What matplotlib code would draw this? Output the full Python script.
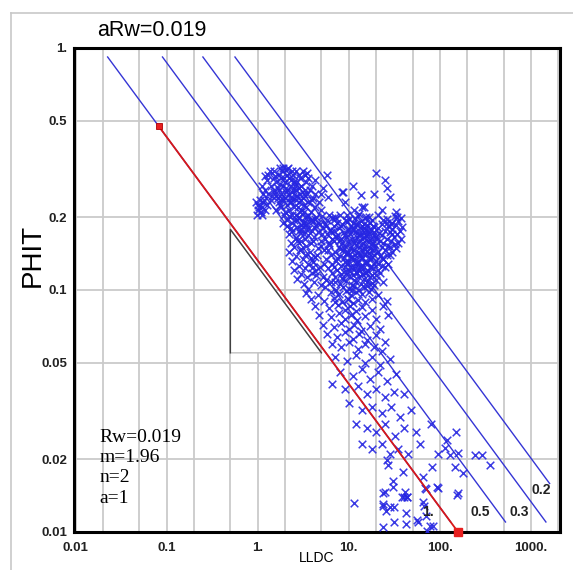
import numpy as np
import matplotlib.pyplot as plt
from matplotlib.patches import Polygon
from matplotlib.lines import Line2D

# Pickett plot parameters
a_rw = 0.019
m_exp = 1.96
n_exp = 2
sw_levels = [1.0, 0.5, 0.3, 0.2]
sw_labels = ['1.', '0.5', '0.3', '0.2']
sw_label_x = [74, 275, 740, 1290]
sw_label_y = [0.0121, 0.0121, 0.0121, 0.0149]

xticks = [0.01, 0.1, 1, 10, 100, 1000]
xtick_labels = ['0.01', '0.1', '1.', '10.', '100.', '1000.']
yticks = [0.01, 0.02, 0.05, 0.1, 0.2, 0.5, 1]
ytick_labels = ['0.01', '0.02', '0.05', '0.1', '0.2', '0.5', '1.']

# LLDC / PHIT samples
upper_pts = [
    (1.3, 0.30), (1.5, 0.31), (1.7, 0.30), (1.9, 0.32), (2.1, 0.30), (2.4, 0.31), (1.6, 0.28), (1.8, 0.29),
    (2.0, 0.28), (2.2, 0.29), (2.5, 0.28), (2.8, 0.30), (3.0, 0.27), (1.4, 0.27), (1.2, 0.26), (1.5, 0.26),
    (1.7, 0.26), (1.9, 0.27), (2.1, 0.26), (2.3, 0.27), (2.6, 0.26), (2.9, 0.25), (3.3, 0.26), (1.3, 0.25),
    (1.6, 0.245), (1.8, 0.25), (2.0, 0.24), (2.2, 0.25), (2.4, 0.24), (2.7, 0.245), (3.1, 0.24), (3.5, 0.25),
    (1.4, 0.235), (1.7, 0.23), (1.9, 0.235), (2.1, 0.225), (2.3, 0.23), (2.5, 0.22), (2.8, 0.23), (3.2, 0.225),
    (3.6, 0.23), (4.0, 0.24), (1.6, 0.215), (1.8, 0.22), (2.0, 0.21), (2.2, 0.215), (2.6, 0.205), (2.9, 0.21),
    (3.3, 0.20), (3.8, 0.21), (4.3, 0.22), (2.1, 0.195), (2.4, 0.19), (2.7, 0.195), (3.0, 0.185), (3.4, 0.19),
    (3.9, 0.195), (4.4, 0.20), (2.3, 0.18), (2.8, 0.175), (3.2, 0.17), (3.6, 0.178), (4.1, 0.182), (4.6, 0.19),
    (1.5, 0.29), (2.6, 0.31), (3.4, 0.28), (3.9, 0.27), (1.75, 0.275), (2.35, 0.255), (2.05, 0.265), (1.45, 0.245),
    (2.65, 0.235), (3.0, 0.215), (1.95, 0.205), (2.45, 0.30), (2.9, 0.29), (3.7, 0.26), (4.2, 0.25), (1.25, 0.285),
    (1.1, 0.27), (1.15, 0.25), (2.15, 0.32), (1.85, 0.31), (3.3, 0.30), (2.55, 0.27), (2.25, 0.24), (1.65, 0.24),
    (2.75, 0.22), (3.5, 0.20), (4.7, 0.23), (5.0, 0.25),
    (1.55, 0.295), (1.95, 0.29), (2.3, 0.285), (2.7, 0.28), (1.65, 0.265), (2.05, 0.255), (2.45, 0.26),
    (2.85, 0.265), (3.2, 0.25), (1.5, 0.255), (1.85, 0.24), (2.25, 0.23), (2.6, 0.245), (3.0, 0.235),
    (3.4, 0.22), (2.4, 0.205), (2.85, 0.20), (3.2, 0.21), (1.75, 0.225), (2.1, 0.315), (1.75, 0.32),
    (1.35, 0.31), (1.2, 0.295), (3.1, 0.31), (3.6, 0.29),
]
blob_pts = [
    (0.95, 0.23), (1.0, 0.225), (1.05, 0.235), (1.1, 0.22), (1.15, 0.23), (1.0, 0.215), (1.08, 0.21),
    (1.2, 0.215), (1.25, 0.225), (0.98, 0.205), (1.12, 0.205), (1.03, 0.22), (1.18, 0.235),
]
sparse_top_pts = [
    (3.5, 0.305), (4.2, 0.285), (5.2, 0.264), (5.7, 0.30), (8.4, 0.254), (11, 0.27), (13.5, 0.247), (14.6, 0.22),
    (20, 0.305), (19, 0.25), (25, 0.285), (26, 0.264), (28, 0.242), (23, 0.214), (33, 0.21), (30, 0.19),
    (34, 0.20), (8.6, 0.254), (11.5, 0.214), (14, 0.22), (15.5, 0.20), (9, 0.23), (3.9, 0.235), (5, 0.214),
    (5.9, 0.242), (7.0, 0.20),
]
core_pts = [
    (2.2, 0.202), (2.8, 0.198), (3.6, 0.205), (4.3, 0.196), (5.1, 0.203), (6.5, 0.199), (8.0, 0.205), (10, 0.197),
    (12.5, 0.203), (15, 0.199), (21, 0.205), (26, 0.196), (32, 0.202), (37, 0.198),
    (1.9, 0.19), (2.5, 0.194), (3.2, 0.189), (4.0, 0.192), (4.8, 0.188), (5.8, 0.194), (7.4, 0.19), (9.2, 0.195),
    (11, 0.189), (13.5, 0.193), (17, 0.19), (24, 0.194), (29, 0.188), (35, 0.192),
    (2.1, 0.184), (2.7, 0.182), (3.4, 0.186), (4.4, 0.183), (5.5, 0.187), (6.8, 0.183), (8.5, 0.187), (10.5, 0.184),
    (12, 0.188), (14, 0.183), (16, 0.186), (19, 0.182), (23, 0.187), (27, 0.183), (33, 0.186), (38, 0.182),
    (2.4, 0.176), (3.0, 0.179), (3.9, 0.175), (5.2, 0.18), (6.2, 0.177), (7.8, 0.181), (9.8, 0.177), (11.2, 0.18),
    (12.8, 0.176), (14.6, 0.181), (17.5, 0.177), (21, 0.18), (25, 0.176), (30, 0.179), (36, 0.175),
    (2.2, 0.17), (2.9, 0.172), (3.6, 0.168), (4.6, 0.173), (5.8, 0.17), (6.4, 0.174), (7.6, 0.169), (8.9, 0.173),
    (10.4, 0.17), (11.8, 0.174), (13.4, 0.169), (15.2, 0.173), (16.8, 0.17), (19, 0.174), (23, 0.169), (28, 0.173),
    (34, 0.17),
    (2.6, 0.164), (3.3, 0.162), (4.1, 0.166), (5.5, 0.163), (7.2, 0.167), (8.3, 0.163), (9.4, 0.166), (10.8, 0.162),
    (12.3, 0.166), (13.9, 0.163), (15.6, 0.167), (17.8, 0.162), (20, 0.165), (26, 0.163), (31, 0.166), (37, 0.162),
    (2.3, 0.157), (3.0, 0.159), (3.8, 0.156), (4.9, 0.16), (6.0, 0.157), (6.8, 0.159), (8.4, 0.156), (9.9, 0.16),
    (11.4, 0.157), (12.8, 0.159), (14.4, 0.156), (16.2, 0.16), (18.5, 0.157), (22, 0.159), (24, 0.156), (29, 0.16),
    (35, 0.157),
    (2.5, 0.15), (3.4, 0.152), (4.6, 0.149), (6.1, 0.153), (7.7, 0.15), (9.1, 0.152), (10.4, 0.149), (11.9, 0.153),
    (13.3, 0.15), (15, 0.152), (17, 0.149), (19.5, 0.153), (23, 0.15), (27, 0.152), (33, 0.149),
    (2.2, 0.144), (2.9, 0.146), (3.7, 0.143), (5.3, 0.147), (7.0, 0.144), (8.6, 0.146), (9.8, 0.143), (11.1, 0.147),
    (12.5, 0.144), (14, 0.146), (15.8, 0.143), (18, 0.147), (21, 0.144), (25, 0.146), (30, 0.143),
    (2.6, 0.138), (3.3, 0.14), (4.2, 0.137), (6.3, 0.14), (7.9, 0.138), (9.3, 0.141), (10.6, 0.137), (11.8, 0.14),
    (13.1, 0.138), (14.6, 0.141), (16.5, 0.137), (19, 0.14), (22, 0.138), (28, 0.14),
    (2.4, 0.132), (3.1, 0.134), (4.0, 0.131), (5.6, 0.134), (7.2, 0.132), (8.8, 0.135), (10.1, 0.131), (11.4, 0.134),
    (12.7, 0.132), (14.1, 0.135), (15.6, 0.131), (17.5, 0.134), (20, 0.132), (24, 0.134),
    (2.8, 0.126), (3.6, 0.128), (4.8, 0.125), (6.6, 0.128), (8.2, 0.126), (9.6, 0.129), (10.9, 0.125), (12.2, 0.128),
    (13.6, 0.126), (15.2, 0.129), (17, 0.125), (19, 0.128), (23, 0.126), (27, 0.128),
    (2.5, 0.121), (3.3, 0.123), (4.3, 0.12), (5.9, 0.123), (7.5, 0.121), (9.0, 0.124), (10.3, 0.12), (11.6, 0.123),
    (13, 0.121), (14.5, 0.124), (16.4, 0.12), (18.5, 0.123), (21, 0.121),
    (3.0, 0.116), (3.9, 0.118), (4.4, 0.115), (6.5, 0.118), (8.1, 0.116), (9.6, 0.119), (11, 0.115), (12.4, 0.118),
    (13.8, 0.116), (15.5, 0.119), (18, 0.115), (22, 0.118),
    (2.7, 0.111), (3.5, 0.113), (5.6, 0.11), (7.1, 0.113), (8.7, 0.111), (10.1, 0.114), (11.4, 0.11), (12.9, 0.113),
    (14.6, 0.111), (17, 0.113), (20, 0.11),
    (3.2, 0.106), (4.1, 0.108), (4.9, 0.105), (6.4, 0.108), (7.9, 0.106), (9.3, 0.109), (10.7, 0.105), (12.1, 0.108),
    (13.7, 0.106), (16, 0.108), (19, 0.105), (24, 0.108),
    (3.6, 0.101), (5.5, 0.103), (7.2, 0.10), (8.6, 0.103), (10, 0.101), (11.3, 0.104), (12.8, 0.10), (14.8, 0.103),
    (17.5, 0.101),
    (3.4, 0.097), (4.6, 0.095), (6.3, 0.098), (7.8, 0.096), (9.2, 0.099), (10.6, 0.095), (12, 0.098), (13.8, 0.096),
    (16.5, 0.098), (21, 0.095),
]
core_fill_pts = [
    (7.0, 0.196), (9.5, 0.191), (11.8, 0.198), (14.5, 0.188), (17.8, 0.195), (8.2, 0.184), (10.1, 0.179),
    (12.4, 0.185), (15.3, 0.178), (18.3, 0.184), (6.9, 0.176), (9.1, 0.168), (11.0, 0.177), (13.0, 0.171),
    (14.8, 0.165), (16.4, 0.175), (18.8, 0.168), (21.5, 0.172), (7.9, 0.161), (10.0, 0.155), (11.7, 0.161),
    (13.6, 0.154), (15.4, 0.161), (17.3, 0.155), (19.8, 0.162), (8.0, 0.148), (9.5, 0.142), (11.5, 0.147),
    (13.1, 0.141), (14.9, 0.148), (16.8, 0.142), (18.9, 0.147), (7.5, 0.136), (9.0, 0.131), (10.7, 0.137),
    (12.3, 0.13), (13.9, 0.136), (15.9, 0.13), (18.0, 0.137), (6.9, 0.125), (8.8, 0.119), (10.4, 0.124),
    (12.0, 0.119), (13.4, 0.125), (15.0, 0.118), (17.4, 0.124), (5.3, 0.128), (4.5, 0.14), (5.0, 0.152),
    (5.9, 0.146), (4.0, 0.159), (6.6, 0.163), (5.1, 0.171), (3.4, 0.178), (5.6, 0.184), (3.8, 0.195),
    (26, 0.19), (30, 0.17), (32, 0.155), (28, 0.15), (26, 0.14), (23, 0.135), (21, 0.128), (25, 0.124),
    (20, 0.115), (18, 0.107), (16, 0.104), (7.0, 0.108), (5.2, 0.113), (4.0, 0.125), (3.8, 0.135),
    (3.0, 0.148), (2.7, 0.16), (3.1, 0.19), (6.0, 0.205), (9.5, 0.205), (13, 0.207), (16.5, 0.20),
    (8.5, 0.112), (10.8, 0.10), (9.7, 0.092), (7.0, 0.089),
]
lower_pts = [
    (3.8, 0.092), (5.3, 0.09), (6.9, 0.093), (8.4, 0.089), (9.8, 0.092), (11.2, 0.088), (12.7, 0.091), (15, 0.089),
    (18, 0.092), (26, 0.09), (4.3, 0.086), (6, 0.084), (7.6, 0.087), (9, 0.083), (10.4, 0.086), (12, 0.082),
    (14, 0.085), (18, 0.083), (24, 0.086), (4.7, 0.079), (6.3, 0.077), (7.7, 0.08), (9.1, 0.076), (10.6, 0.079),
    (12.4, 0.075), (15, 0.078), (20, 0.076), (27, 0.079), (5.2, 0.072), (6.8, 0.07), (8.3, 0.073), (10, 0.069),
    (11.5, 0.072), (13.5, 0.068), (17, 0.071), (22, 0.069), (5.8, 0.066), (7.4, 0.064), (9, 0.067), (11, 0.063),
    (13, 0.066), (16, 0.062), (20, 0.065), (25, 0.061), (6.5, 0.06), (8.2, 0.058), (10, 0.061), (12.5, 0.057),
    (15, 0.06), (19, 0.058), (23, 0.056),
]
tail_pts = [
    (7, 0.053), (9.5, 0.051), (12, 0.054), (15, 0.05), (18, 0.053), (22, 0.049), (28, 0.052),
    (8, 0.046), (11, 0.044), (14, 0.047), (17, 0.043), (21, 0.046), (26, 0.042), (33, 0.045),
    (6.5, 0.041), (9, 0.039), (12.5, 0.04), (16, 0.037), (20, 0.039), (25, 0.036), (31, 0.038), (40, 0.037),
    (10, 0.034), (14, 0.032), (18, 0.033), (23, 0.031), (29, 0.033), (36, 0.03), (48, 0.032),
    (12, 0.028), (16, 0.027), (20, 0.026), (25, 0.028), (32, 0.025), (40, 0.027), (55, 0.026), (80, 0.028),
    (120, 0.024), (150, 0.026), (14, 0.023), (18, 0.022), (23, 0.023), (28, 0.021), (35, 0.022), (45, 0.021),
    (60, 0.023), (95, 0.021),
]
bottom_pts = [
    (11.4, 0.0132), (24, 0.0145), (24, 0.0128), (25.5, 0.0122), (24, 0.0105), (30.5, 0.0153), (38, 0.0139),
    (40, 0.014), (44, 0.014), (31.5, 0.0127), (42, 0.012), (42, 0.0108), (31.5, 0.011), (57, 0.011), (70, 0.015),
    (66, 0.0128), (73, 0.0101), (83, 0.0106), (92, 0.0153), (154, 0.0142), (70, 0.0116),
    (26, 0.0199), (27, 0.019), (30.5, 0.0163), (25, 0.0147), (23.5, 0.013), (28.5, 0.0127), (39, 0.0177),
    (41, 0.0146), (43, 0.0139), (65, 0.0169), (68, 0.0152), (65, 0.0133), (82, 0.0186), (95, 0.0152),
    (114, 0.0222), (130, 0.0208), (145, 0.0186), (157, 0.0212), (178, 0.0175), (157, 0.0145), (241, 0.0208),
    (288, 0.0208), (355, 0.019), (77, 0.0106), (56, 0.0112),
]

all_pts = np.array(upper_pts + blob_pts + sparse_top_pts + core_pts + core_fill_pts
                   + lower_pts + tail_pts + bottom_pts)
lldc = all_pts[:, 0]
phit = all_pts[:, 1]

fig = plt.figure(figsize=(5.73, 5.70), dpi=100)
ax = fig.add_axes([74 / 573, 38 / 570, 486 / 573, 484 / 570])

# thin frame around the whole picture
fig.add_artist(Line2D([11 / 573, 11 / 573], [0, 1 - 13 / 570], color='#c8c8c8', lw=1.2))
fig.add_artist(Line2D([11 / 573, 1], [1 - 13 / 570, 1 - 13 / 570], color='#c8c8c8', lw=1.2))

ax.set_xscale('log')
ax.set_yscale('log')
ax.set_xlim(0.0096, 2080)
ax.set_ylim(0.01, 1.0)

xgrid = [k * 10.0 ** e for e in range(-2, 4) for k in (1, 2, 5)]
ygrid = [0.02, 0.05, 0.1, 0.2, 0.5]
for g in xgrid:
    ax.axvline(g, color='#cacaca', lw=1.3, zorder=0)
for g in ygrid:
    ax.axhline(g, color='#cacaca', lw=1.3, zorder=0)

ax.set_xticks(xticks)
ax.set_xticklabels(xtick_labels)
ax.set_yticks(yticks)
ax.set_yticklabels(ytick_labels)
ax.minorticks_off()
ax.tick_params(axis='both', length=0, labelsize=9.5)
ax.tick_params(axis='x', pad=7)
ax.tick_params(axis='y', pad=5)
for lab in ax.get_xticklabels() + ax.get_yticklabels():
    lab.set_fontfamily('Liberation Sans')
    lab.set_fontweight('bold')
    lab.set_color('#222222')
for sp in ax.spines.values():
    sp.set_linewidth(2.2)
    sp.set_color('black')

# slope triangle
tri_x0, tri_x1, tri_y0 = 0.5, 5.0, 0.055
tri_y1 = tri_y0 * (tri_x1 / tri_x0) ** (1 / m_exp)
ax.add_patch(Polygon([(tri_x0, tri_y0), (tri_x0, tri_y1), (tri_x1, tri_y0)], closed=True,
                     facecolor='white', edgecolor='#c0c0c0', lw=1.0, zorder=1))
ax.plot([tri_x0, tri_x0, tri_x1], [tri_y0, tri_y1, tri_y0], color='#404040', lw=1.0, zorder=2)

# water saturation lines
phi_top, phi_bot, rt_max = 0.918, 0.011, 1600
for sw in sw_levels:
    phi_end = max(phi_bot, (a_rw / (rt_max * sw ** n_exp)) ** (1 / m_exp))
    phi = np.array([phi_top, phi_end])
    rt = a_rw / (phi ** m_exp * sw ** n_exp)
    ax.plot(rt, phi, color='#3535d5', lw=1.0, zorder=2)

for lab, lx, ly in zip(sw_labels, sw_label_x, sw_label_y):
    ax.text(lx, ly, lab, fontsize=10, fontweight='bold', family='Liberation Sans',
            ha='center', va='center', color='#222222', zorder=4)

ax.scatter(lldc, phit, marker='x', s=30, lw=1.1, color='#2626e2', alpha=0.9, zorder=3)

# Sw = 1 fit line (red) with end handles
phi_red = np.array([0.475, 0.01])
rt_red = a_rw / phi_red ** m_exp
ax.plot(rt_red, phi_red, color='#d81818', lw=1.3, zorder=5)
ax.plot(rt_red[0], phi_red[0], marker='s', ms=5, color='#e82020', mec='#b00000', mew=0.6, zorder=6)
ax.plot(rt_red[1], phi_red[1], marker='s', ms=6, color='#e82020', zorder=6, clip_on=False)

ax.text(0.053, 0.213, 'Rw=0.019\nm=1.96\nn=2\na=1', transform=ax.transAxes, fontsize=14,
        family='Liberation Serif', ha='left', va='top', linespacing=1.25, zorder=4)

fig.text(97 / 573, 1 - 31 / 570, 'aRw=0.019', fontsize=15.5, family='Liberation Sans',
         ha='left', va='center')
fig.text(33 / 573, 1 - 255 / 570, 'PHIT', fontsize=20, family='Liberation Sans',
         rotation=90, ha='center', va='center')
fig.text(317 / 573, 1 - 558 / 570, 'LLDC', fontsize=10, family='Liberation Sans',
         ha='center', va='center')

fig.savefig('out.png', dpi=100)
